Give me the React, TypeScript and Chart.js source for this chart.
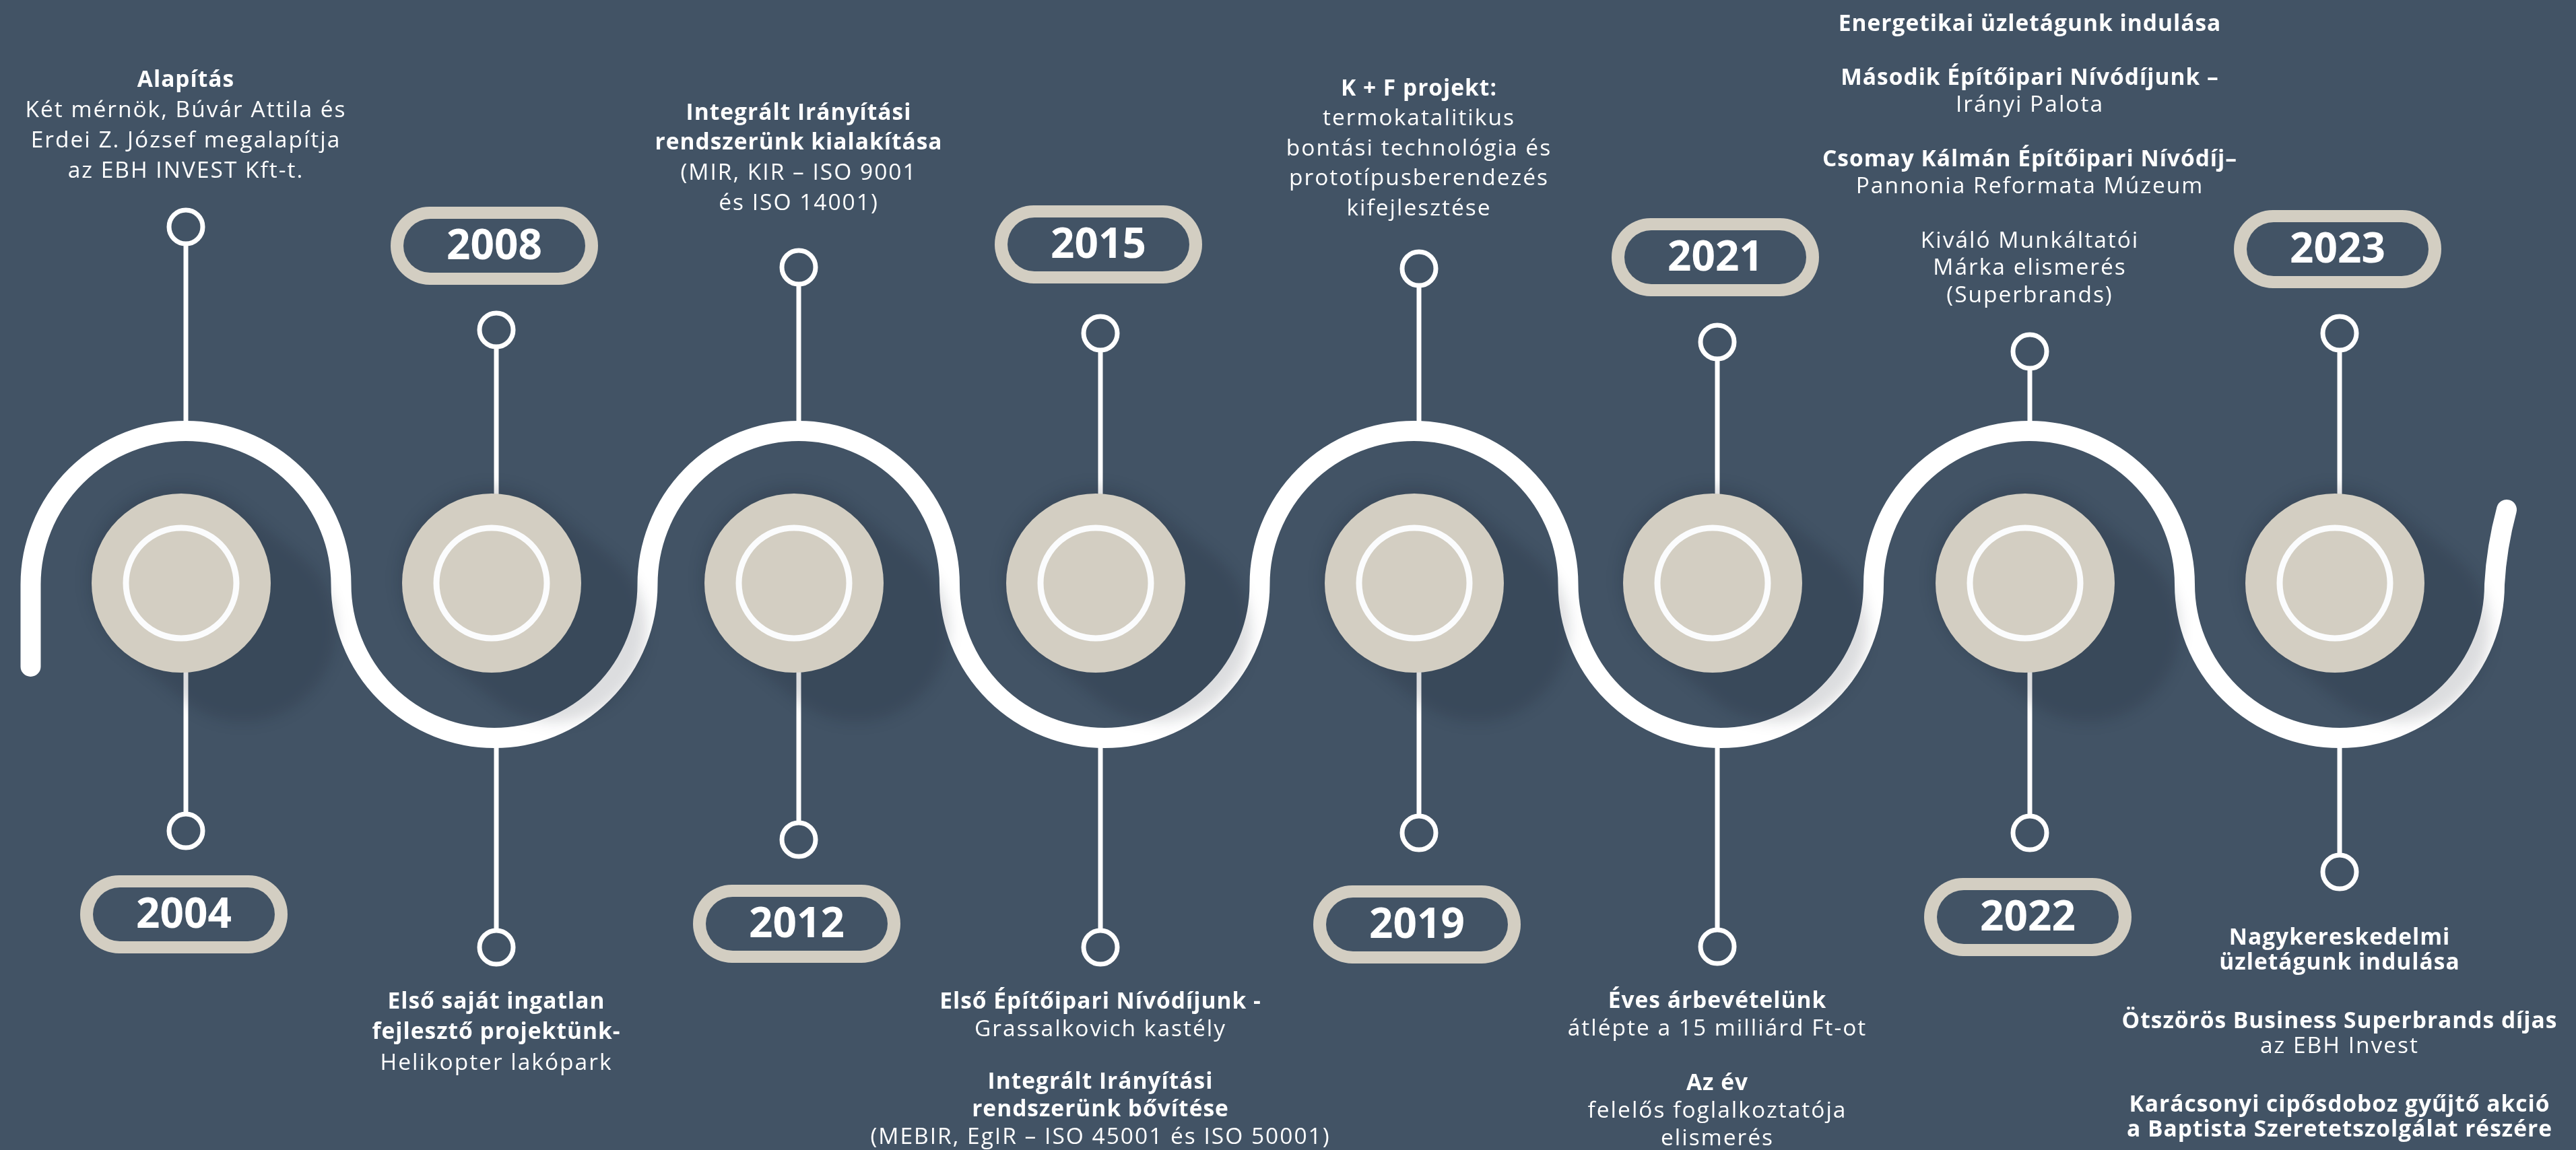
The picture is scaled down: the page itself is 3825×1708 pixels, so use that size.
import React, { useEffect, useRef } from "react";
import { Chart, registerables } from "chart.js";

Chart.register(...registerables);

// ---------------- DATA ----------------
const years = ["2004", "2008", "2012", "2015", "2019", "2021", "2022", "2023"];

const events: string[][] = [
  ["Alapítás", "Két mérnök, Búvár Attila és", "Erdei Z. József megalapítja", "az EBH INVEST Kft-t."],
  ["Első saját ingatlan", "fejlesztő projektünk-", "Helikopter lakópark"],
  ["Integrált Irányítási", "rendszerünk kialakítása", "(MIR, KIR – ISO 9001", "és ISO 14001)"],
  ["Első Építőipari Nívódíjunk -", "Grassalkovich kastély", "", "Integrált Irányítási", "rendszerünk bővítése", "(MEBIR, EgIR – ISO 45001 és ISO 50001)"],
  ["K + F projekt:", "termokatalitikus", "bontási technológia és", "prototípusberendezés", "kifejlesztése"],
  ["Éves árbevételünk", "átlépte a 15 milliárd Ft-ot", "", "Az év", "felelős foglalkoztatója", "elismerés"],
  ["Energetikai üzletágunk indulása", "", "Második Építőipari Nívódíjunk –", "Irányi Palota", "", "Csomay Kálmán Építőipari Nívódíj–", "Pannonia Reformata Múzeum", "", "Kiváló Munkáltatói", "Márka elismerés", "(Superbrands)"],
  ["Nagykereskedelmi", "üzletágunk indulása", "", "Ötszörös Business Superbrands díjas", "az EBH Invest", "", "Karácsonyi cipősdoboz gyűjtő akció", "a Baptista Szeretetszolgálat részére"],
];

// ---------------- LAYOUT / STYLE ----------------
const W = 3825;
const H = 1708;
const BG = "#425365";
const BEIGE = "#d3cec2";
const WHITE = "#ffffff";
const FONT = "'Open Sans', 'Noto Sans', sans-serif";

const STEM_X = [276, 737, 1186, 1634, 2107, 2550, 3014, 3474];
const TOP_RING_Y = [337, 490, 397, 495, 399, 508, 522, 495];
const BOTTOM_RING_Y = [1234, 1407, 1247, 1407, 1237, 1406, 1237, 1295];
const PILL_Y = [1358, 365, 1372, 363, 1373, 382, 1362, 370];
const TEXT_Y0 = [119, 1488, 168, 1488, 132, 1487, 36, 1393];
const LINE_H = [45, 45.5, 44.7, 41, 44.5, 41, 40.3, 37];
const BLANK_H = [45, 45, 45, 37, 44, 40, 40.3, 50];
const BOLD: number[][] = [
  [1, 0, 0, 0],
  [1, 1, 0],
  [1, 1, 0, 0],
  [1, 0, 0, 1, 1, 0],
  [1, 0, 0, 0, 0],
  [1, 0, 0, 1, 0, 0],
  [1, 0, 1, 0, 0, 1, 0, 0, 0, 0, 0],
  [1, 1, 0, 1, 0, 0, 1, 1],
];

const WAVE_Y = 868;
const WAVE_R = 228;
const WAVE_START_Y = 990;
const WAVE_END = { x: 3722, y: 757 };
const DISC_Y = 866;
const DISC_DX = -7;
const DISC_R = 133;
const INNER_R = 82;
const PIN_R = 25;
const PILL_W = 308;
const PILL_H = 116;
const PILL_BORDER = 18;
const PILL_DX = -3;
const TEXT_SIZE = 33.5;
const LS_REGULAR = "2px";
const LS_BOLD = "1px";
const YEAR_SIZE = 62;

export default function App() {
  const ref = useRef<HTMLCanvasElement | null>(null);

  useEffect(() => {
    document.body.style.margin = "0";
    document.body.style.background = BG;
    const canvas = ref.current;
    if (!canvas) return;

    const n = years.length;
    const arcUp = (i: number) => i % 2 === 0;

    // stems
    const stemPts: any[] = [];
    for (let i = 0; i < n; i++) {
      const x = STEM_X[i];
      const topEnd = arcUp(i) ? WAVE_Y - WAVE_R : DISC_Y;
      const botStart = arcUp(i) ? DISC_Y : WAVE_Y + WAVE_R;
      stemPts.push({ x, y: TOP_RING_Y[i] }, { x, y: topEnd }, { x, y: null });
      stemPts.push({ x, y: botStart }, { x, y: BOTTOM_RING_Y[i] }, { x, y: null });
    }
    const discPts = STEM_X.map((x) => ({ x: x + DISC_DX, y: DISC_Y }));
    const pinPts: any[] = [];
    for (let i = 0; i < n; i++) {
      pinPts.push({ x: STEM_X[i], y: TOP_RING_Y[i] }, { x: STEM_X[i], y: BOTTOM_RING_Y[i] });
    }

    const bgPlugin = {
      id: "bg",
      beforeDraw(chart: any) {
        const c = chart.ctx;
        c.save();
        c.fillStyle = BG;
        c.fillRect(0, 0, chart.width, chart.height);
        c.restore();
      },
    };

    const decoPlugin = {
      id: "deco",
      afterDatasetDraw(chart: any, args: any) {
        if (args.index !== 0) return;
        const c = chart.ctx;
        const xs = chart.scales.x;
        const ys = chart.scales.y;
        const px = (v: number) => xs.getPixelForValue(v);
        const py = (v: number) => ys.getPixelForValue(v);

        // wave
        const junctions: number[] = [];
        junctions.push(2 * STEM_X[0] - (STEM_X[0] + STEM_X[1]) / 2);
        for (let i = 0; i < n - 1; i++) junctions.push((STEM_X[i] + STEM_X[i + 1]) / 2);
        junctions.push(2 * STEM_X[n - 1] - (STEM_X[n - 2] + STEM_X[n - 1]) / 2);
        const ry = Math.abs(py(WAVE_Y - WAVE_R) - py(WAVE_Y));
        c.save();
        c.strokeStyle = WHITE;
        c.lineWidth = 30;
        c.lineCap = "round";
        c.lineJoin = "round";
        c.beginPath();
        c.moveTo(px(junctions[0]), py(WAVE_START_Y));
        c.lineTo(px(junctions[0]), py(WAVE_Y));
        for (let i = 0; i < n; i++) {
          const l = px(junctions[i]);
          const r = px(junctions[i + 1]);
          const cx = (l + r) / 2;
          const rx = (r - l) / 2;
          if (arcUp(i)) c.ellipse(cx, py(WAVE_Y), rx, ry, 0, Math.PI, 2 * Math.PI, false);
          else c.ellipse(cx, py(WAVE_Y), rx, ry, 0, Math.PI, 0, true);
        }
        const ex = px(junctions[n]);
        c.quadraticCurveTo(ex + 3, py(WAVE_Y - 55), px(WAVE_END.x), py(WAVE_END.y));
        c.stroke();
        c.restore();

        // disc shadows
        c.save();
        c.filter = "blur(10px)";
        c.fillStyle = "rgba(8,16,30,0.14)";
        c.beginPath();
        for (let i = 0; i < n; i++) {
          const cx = px(STEM_X[i] + DISC_DX);
          const cy = py(DISC_Y);
          for (let t = 0; t <= 1.0001; t += 0.04) {
            const sx = cx + t * 92;
            const sy = cy - 6 + t * 74;
            c.moveTo(sx + DISC_R + 5, sy);
            c.arc(sx, sy, DISC_R + 5, 0, Math.PI * 2);
          }
        }
        c.fill();
        c.restore();
      },
      afterDatasetsDraw(chart: any) {
        const c = chart.ctx;
        const xs = chart.scales.x;
        const ys = chart.scales.y;
        const px = (v: number) => xs.getPixelForValue(v);
        const py = (v: number) => ys.getPixelForValue(v);
        c.save();
        // pills
        for (let i = 0; i < n; i++) {
          const cx = px(STEM_X[i] + PILL_DX);
          const cy = py(PILL_Y[i]);
          c.fillStyle = BEIGE;
          c.beginPath();
          c.roundRect(cx - PILL_W / 2, cy - PILL_H / 2, PILL_W, PILL_H, PILL_H / 2);
          c.fill();
          const iw = PILL_W - 2 * PILL_BORDER - 2;
          const ih = PILL_H - 2 * PILL_BORDER;
          c.fillStyle = BG;
          c.beginPath();
          c.roundRect(cx - iw / 2, cy - ih / 2, iw, ih, ih / 2);
          c.fill();
          c.fillStyle = WHITE;
          c.font = `700 ${YEAR_SIZE}px ${FONT}`;
          (c as any).letterSpacing = "0px";
          c.textAlign = "center";
          c.textBaseline = "middle";
          c.fillText(years[i], cx, cy + 2);
        }
        // event texts
        for (let i = 0; i < n; i++) {
          const cx = px(STEM_X[i]);
          let y = TEXT_Y0[i];
          const lines = events[i];
          for (let k = 0; k < lines.length; k++) {
            const t = lines[k];
            if (t === "") {
              y += BLANK_H[i];
              continue;
            }
            const bold = !!BOLD[i][k];
            c.font = `${bold ? 700 : 400} ${TEXT_SIZE}px ${FONT}`;
            (c as any).letterSpacing = bold ? LS_BOLD : LS_REGULAR;
            c.fillStyle = WHITE;
            c.textAlign = "center";
            c.textBaseline = "middle";
            c.fillText(t, cx, py(y));
            y += LINE_H[i];
          }
        }
        c.restore();
      },
    };

    const chart = new Chart(canvas, {
      type: "scatter",
      data: {
        datasets: [
          {
            type: "line",
            data: stemPts,
            borderColor: WHITE,
            borderWidth: 7,
            pointRadius: 0,
            pointHoverRadius: 0,
            spanGaps: false,
            tension: 0,
            order: 10,
          } as any,
          {
            data: discPts,
            pointRadius: DISC_R,
            pointHoverRadius: DISC_R,
            backgroundColor: BEIGE,
            borderWidth: 0,
            order: 4,
          },
          {
            data: discPts,
            pointRadius: INNER_R,
            pointHoverRadius: INNER_R,
            backgroundColor: "rgba(0,0,0,0)",
            borderColor: "#fbfcfd",
            borderWidth: 9,
            order: 3,
          },
          {
            data: pinPts,
            pointRadius: PIN_R,
            pointHoverRadius: PIN_R,
            backgroundColor: BG,
            borderColor: WHITE,
            borderWidth: 7,
            order: 2,
          },
        ],
      },
      options: {
        responsive: false,
        animation: false,
        devicePixelRatio: 1,
        events: [],
        layout: { padding: 0, autoPadding: false },
        plugins: { legend: { display: false }, tooltip: { enabled: false } },
        scales: {
          x: { type: "linear", min: 0, max: W, display: false },
          y: { type: "linear", min: 0, max: H, reverse: true, display: false },
        },
      },
      plugins: [bgPlugin, decoPlugin],
    });
    return () => chart.destroy();
  }, []);

  return <canvas ref={ref} width={W} height={H} style={{ display: "block", width: W, height: H }} />;
}
